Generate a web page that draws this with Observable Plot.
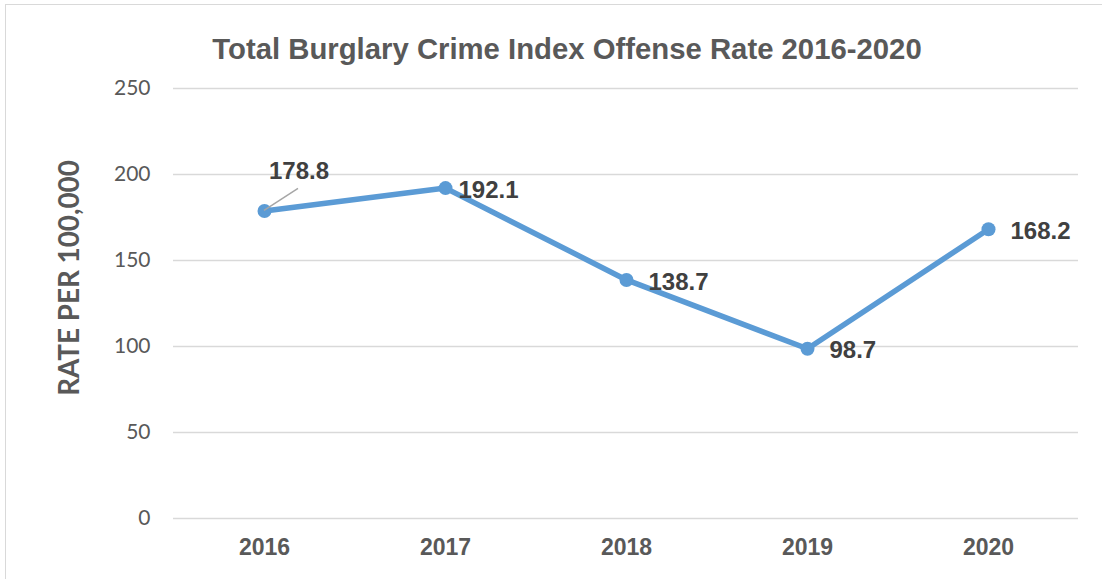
<!DOCTYPE html>
<html>
<head>
<meta charset="utf-8">
<script src="https://cdn.jsdelivr.net/npm/d3@7"></script>
<script src="https://cdn.jsdelivr.net/npm/@observablehq/plot@0.6"></script>
<style>
  html, body { margin: 0; padding: 0; background: #fff; overflow: hidden; }
  #wrap { position: relative; width: 1102px; height: 579px; overflow: hidden; }
  #frame { position: absolute; left: 5px; top: 4px; width: 1200px; height: 700px; border: 1.5px solid #d9d9d9; box-sizing: border-box; }
  #title { position: absolute; left: 0; top: 32px; width: 1134px; text-align: center; font: bold 29.3px "Liberation Sans", Arial, sans-serif; color: #595959; white-space: nowrap; }
  #ylabel { position: absolute; left: 68px; top: 278px; transform: translate(-50%, -50%) rotate(-90deg); font: bold 27.8px Lato, "Liberation Sans", sans-serif; color: #595959; white-space: nowrap; }
  #chart { position: absolute; left: 0; top: 0; }
</style>
</head>
<body>
<div id="wrap">
  <div id="frame"></div>
  <div id="chart"></div>
  <div id="title">Total Burglary Crime Index Offense Rate 2016-2020</div>
  <div id="ylabel">RATE PER 100,000</div>
</div>
<script>
const years = ["2016", "2017", "2018", "2019", "2020"];
const rates = [178.8, 192.1, 138.7, 98.7, 168.2];
const yTicks = [0, 50, 100, 150, 200, 250];

const data = years.map((year, i) => ({year, rate: rates[i], label: rates[i].toFixed(1)}));
const blue = "#5B9BD5";
const labelFont = "'Liberation Sans', Arial, sans-serif";

const leader = (index, scales) => {
  const x0 = scales.x(data[0].year), y0 = scales.y(data[0].rate);
  const g = d3.create("svg:g");
  g.append("line")
    .attr("x1", x0).attr("y1", y0)
    .attr("x2", x0 + 34).attr("y2", y0 - 22)
    .attr("stroke", "#a6a6a6").attr("stroke-width", 1.5);
  g.append("text")
    .attr("x", x0 + 35).attr("y", y0 - 38)
    .attr("text-anchor", "middle").attr("dominant-baseline", "middle")
    .attr("fill", "#404040")
    .style("font", "bold 24px " + labelFont)
    .text(data[0].label);
  return g.node();
};

const textOpts = {x: "year", y: "rate", text: "label", textAnchor: "start", dy: 2, fontSize: 24, fontWeight: "bold", fontFamily: labelFont, fill: "#404040"};

const plot = Plot.plot({
  width: 1102,
  height: 579,
  marginLeft: 173,
  marginRight: 24,
  marginTop: 88,
  marginBottom: 61,
  style: {background: "transparent", overflow: "visible"},
  x: {type: "point", domain: years, padding: 0.5, label: null},
  y: {domain: [0, 250], ticks: yTicks, label: null},
  marks: [
    Plot.ruleY(yTicks, {stroke: "#d9d9d9", strokeWidth: 1.5}),
    Plot.axisY({ticks: yTicks, tickSize: 0, tickPadding: 23, fontSize: 21, fontFamily: "Lato, 'Liberation Sans', sans-serif", fill: "#595959", label: null}),
    Plot.axisX({tickSize: 0, tickPadding: 20, fontSize: 23, fontWeight: "bold", fontFamily: labelFont, fill: "#595959", label: null}),
    Plot.line(data, {x: "year", y: "rate", stroke: blue, strokeWidth: 5.5}),
    Plot.dot(data, {x: "year", y: "rate", r: 7, fill: blue}),
    Plot.text(data.slice(1, 2), {...textOpts, dx: 13}),
    Plot.text(data.slice(2), {...textOpts, dx: 22}),
    leader
  ]
});
document.getElementById("chart").appendChild(plot);
</script>
</body>
</html>
